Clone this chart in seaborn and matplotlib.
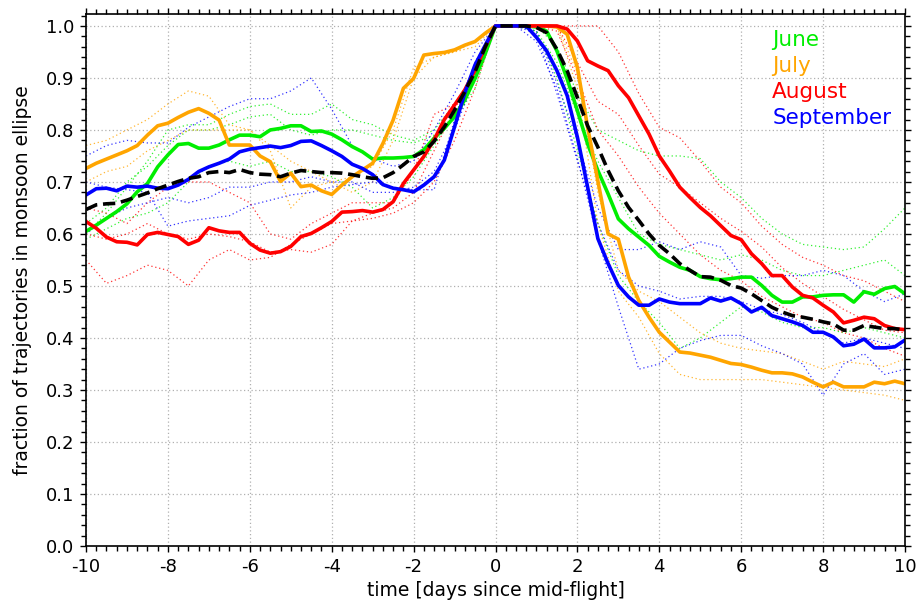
import numpy as np
import seaborn as sns
import matplotlib.pyplot as plt
from matplotlib.ticker import MultipleLocator

sns.set_theme(style="ticks")
plt.rcParams['font.family'] = ['DejaVu Sans']
plt.rcParams['axes.unicode_minus'] = False
plt.rcParams['text.color'] = 'black'
plt.rcParams['axes.labelcolor'] = 'black'
plt.rcParams['xtick.color'] = 'black'
plt.rcParams['ytick.color'] = 'black'

# time axis of the monthly means (6-hourly) and of the single flights (12-hourly)
t_mean = np.arange(-10, 10.001, 0.25)
t_flight = np.arange(-10, 10.001, 0.5)

june = [0.605, 0.617, 0.630, 0.643, 0.658, 0.681, 0.697, 0.729, 0.752, 0.772, 0.774,
        0.765, 0.765, 0.771, 0.781, 0.790, 0.790, 0.787, 0.800, 0.803, 0.808, 0.808,
        0.797, 0.798, 0.792, 0.781, 0.768, 0.758, 0.744, 0.746, 0.746, 0.747, 0.749,
        0.762, 0.784, 0.803, 0.826, 0.858, 0.899, 0.947, 1.0,
        1.0, 1.0, 1.0, 0.998, 0.990, 0.952, 0.898, 0.837, 0.773, 0.722, 0.677, 0.629,
        0.610, 0.594, 0.578, 0.557, 0.546, 0.536, 0.530, 0.518, 0.514, 0.512, 0.514,
        0.517, 0.517, 0.501, 0.482, 0.469, 0.469, 0.479, 0.479, 0.482, 0.483, 0.483,
        0.469, 0.489, 0.484, 0.495, 0.499, 0.485]
july = [0.726, 0.736, 0.744, 0.752, 0.760, 0.770, 0.790, 0.808, 0.813, 0.824, 0.834,
        0.841, 0.832, 0.819, 0.771, 0.771, 0.771, 0.750, 0.739, 0.701, 0.717, 0.691,
        0.694, 0.683, 0.676, 0.694, 0.710, 0.723, 0.736, 0.774, 0.819, 0.880, 0.899,
        0.944, 0.947, 0.949, 0.954, 0.963, 0.970, 0.986, 1.0,
        1.0, 1.0, 1.0, 1.0, 1.0, 0.998, 0.984, 0.920, 0.805, 0.702, 0.600, 0.590,
        0.517, 0.472, 0.440, 0.411, 0.392, 0.373, 0.371, 0.367, 0.363, 0.357, 0.351,
        0.349, 0.344, 0.338, 0.333, 0.333, 0.331, 0.325, 0.315, 0.306, 0.315, 0.306,
        0.306, 0.306, 0.315, 0.312, 0.317, 0.312]
august = [0.624, 0.611, 0.594, 0.585, 0.584, 0.579, 0.599, 0.603, 0.599, 0.595, 0.580,
          0.588, 0.612, 0.606, 0.603, 0.603, 0.582, 0.569, 0.563, 0.566, 0.576, 0.595,
          0.601, 0.612, 0.624, 0.642, 0.643, 0.645, 0.642, 0.647, 0.662, 0.697, 0.723,
          0.749, 0.781, 0.820, 0.848, 0.877, 0.915, 0.960, 1.0,
          1.0, 1.0, 1.0, 1.0, 1.0, 1.0, 0.994, 0.971, 0.933, 0.923, 0.914, 0.885,
          0.862, 0.827, 0.792, 0.750, 0.721, 0.690, 0.670, 0.651, 0.635, 0.616, 0.597,
          0.589, 0.562, 0.543, 0.520, 0.520, 0.498, 0.482, 0.477, 0.463, 0.450, 0.429,
          0.434, 0.440, 0.437, 0.424, 0.418, 0.416]
september = [0.675, 0.687, 0.688, 0.683, 0.692, 0.690, 0.692, 0.688, 0.687, 0.694, 0.705,
             0.720, 0.729, 0.736, 0.744, 0.758, 0.763, 0.766, 0.769, 0.766, 0.770, 0.778,
             0.779, 0.770, 0.760, 0.749, 0.734, 0.726, 0.714, 0.695, 0.688, 0.685, 0.681,
             0.694, 0.710, 0.742, 0.806, 0.871, 0.925, 0.963, 1.0,
             1.0, 1.0, 1.0, 0.978, 0.952, 0.914, 0.866, 0.786, 0.690, 0.591, 0.543, 0.501,
             0.479, 0.463, 0.463, 0.475, 0.469, 0.466, 0.466, 0.466, 0.477, 0.471, 0.477,
             0.466, 0.450, 0.459, 0.443, 0.437, 0.431, 0.424, 0.411, 0.411, 0.402, 0.385,
             0.388, 0.398, 0.381, 0.381, 0.383, 0.396]
all_months = [0.647, 0.656, 0.658, 0.659, 0.665, 0.672, 0.679, 0.687, 0.694, 0.701, 0.707,
              0.710, 0.718, 0.720, 0.718, 0.724, 0.718, 0.715, 0.714, 0.710, 0.717, 0.722,
              0.720, 0.718, 0.718, 0.717, 0.714, 0.710, 0.707, 0.708, 0.718, 0.733, 0.749,
              0.758, 0.778, 0.806, 0.838, 0.874, 0.912, 0.960, 1.0,
              1.0, 1.0, 1.0, 0.997, 0.987, 0.955, 0.914, 0.862, 0.808, 0.767, 0.722, 0.683,
              0.651, 0.626, 0.600, 0.578, 0.562, 0.543, 0.530, 0.518, 0.517, 0.511, 0.501,
              0.496, 0.485, 0.472, 0.459, 0.450, 0.443, 0.440, 0.436, 0.431, 0.427, 0.415,
              0.415, 0.424, 0.421, 0.418, 0.418, 0.415]

# single flights, one list per flight
june_flights = [
    [0.60, 0.64, 0.69, 0.74, 0.80, 0.81, 0.81, 0.83, 0.845, 0.85, 0.83, 0.83, 0.85, 0.82,
     0.81, 0.79, 0.78, 0.80, 0.85, 0.91, 1.0,
     1.0, 1.0, 0.96, 0.87, 0.80, 0.78, 0.76, 0.75, 0.75, 0.745, 0.70, 0.67, 0.63, 0.60,
     0.58, 0.575, 0.57, 0.575, 0.61, 0.65],
    [0.62, 0.65, 0.70, 0.73, 0.77, 0.80, 0.80, 0.81, 0.825, 0.83, 0.80, 0.79, 0.80, 0.80,
     0.79, 0.78, 0.775, 0.79, 0.82, 0.88, 1.0,
     1.0, 0.99, 0.93, 0.83, 0.74, 0.67, 0.60, 0.58, 0.57, 0.56, 0.55, 0.56, 0.55, 0.53,
     0.52, 0.52, 0.53, 0.54, 0.55, 0.52],
    [0.59, 0.61, 0.63, 0.64, 0.66, 0.70, 0.73, 0.74, 0.73, 0.74, 0.72, 0.72, 0.71, 0.69,
     0.65, 0.67, 0.71, 0.77, 0.83, 0.90, 1.0,
     1.0, 0.99, 0.90, 0.76, 0.62, 0.52, 0.47, 0.43, 0.38, 0.40, 0.43, 0.46, 0.45, 0.43,
     0.42, 0.42, 0.41, 0.42, 0.41, 0.40],
]
july_flights = [
    [0.77, 0.78, 0.80, 0.82, 0.85, 0.875, 0.865, 0.81, 0.80, 0.76, 0.65, 0.69, 0.70, 0.71,
     0.73, 0.80, 0.92, 0.94, 0.95, 0.97, 1.0,
     1.0, 1.0, 1.0, 0.91, 0.68, 0.53, 0.49, 0.47, 0.44, 0.41, 0.39, 0.38, 0.375, 0.37,
     0.355, 0.34, 0.355, 0.35, 0.345, 0.36],
    [0.70, 0.72, 0.73, 0.76, 0.78, 0.80, 0.80, 0.80, 0.80, 0.77, 0.74, 0.72, 0.70, 0.68,
     0.70, 0.78, 0.90, 0.94, 0.95, 0.96, 1.0,
     1.0, 1.0, 1.0, 0.88, 0.62, 0.49, 0.44, 0.37, 0.33, 0.32, 0.32, 0.32, 0.32, 0.315,
     0.31, 0.305, 0.30, 0.295, 0.29, 0.28],
]
august_flights = [
    [0.65, 0.64, 0.62, 0.66, 0.69, 0.70, 0.70, 0.68, 0.66, 0.60, 0.59, 0.62, 0.64, 0.66,
     0.66, 0.66, 0.72, 0.83, 0.85, 0.90, 1.0,
     1.0, 1.0, 1.0, 1.0, 1.0, 0.95, 0.87, 0.805, 0.785, 0.74, 0.69, 0.66, 0.615, 0.58,
     0.555, 0.54, 0.52, 0.51, 0.49, 0.47],
    [0.60, 0.59, 0.60, 0.62, 0.60, 0.59, 0.60, 0.595, 0.585, 0.565, 0.57, 0.565, 0.58,
     0.625, 0.64, 0.65, 0.68, 0.76, 0.84, 0.91, 1.0,
     1.0, 1.0, 1.0, 0.93, 0.855, 0.83, 0.77, 0.715, 0.69, 0.66, 0.63, 0.605, 0.575, 0.535,
     0.505, 0.48, 0.455, 0.435, 0.415, 0.41],
    [0.55, 0.505, 0.52, 0.54, 0.53, 0.50, 0.55, 0.57, 0.55, 0.555, 0.58, 0.60, 0.62,
     0.625, 0.63, 0.64, 0.66, 0.70, 0.78, 0.88, 1.0,
     1.0, 1.0, 0.99, 0.90, 0.80, 0.75, 0.69, 0.64, 0.60, 0.56, 0.53, 0.51, 0.48, 0.46,
     0.44, 0.43, 0.41, 0.40, 0.38, 0.365],
]
september_flights = [
    [0.75, 0.77, 0.78, 0.775, 0.775, 0.805, 0.825, 0.845, 0.86, 0.86, 0.875, 0.90, 0.84,
     0.77, 0.745, 0.73, 0.74, 0.80, 0.87, 0.95, 1.0,
     1.0, 0.99, 0.89, 0.78, 0.65, 0.57, 0.57, 0.585, 0.57, 0.585, 0.575, 0.52, 0.515,
     0.52, 0.52, 0.53, 0.52, 0.49, 0.47, 0.485],
    [0.70, 0.69, 0.685, 0.68, 0.615, 0.625, 0.63, 0.635, 0.655, 0.665, 0.675, 0.68, 0.69,
     0.695, 0.70, 0.69, 0.685, 0.685, 0.82, 0.93, 1.0,
     1.0, 0.985, 0.87, 0.74, 0.62, 0.53, 0.50, 0.49, 0.475, 0.48, 0.48, 0.47, 0.455,
     0.445, 0.43, 0.41, 0.39, 0.40, 0.39, 0.38],
    [0.60, 0.63, 0.65, 0.66, 0.67, 0.66, 0.67, 0.69, 0.69, 0.70, 0.70, 0.71, 0.70, 0.70,
     0.68, 0.68, 0.69, 0.72, 0.80, 0.90, 1.0,
     1.0, 0.97, 0.88, 0.745, 0.59, 0.46, 0.34, 0.35, 0.38, 0.395, 0.405, 0.405, 0.385,
     0.37, 0.35, 0.29, 0.35, 0.37, 0.33, 0.34],
]

month_names = ["June", "July", "August", "September"]
month_colors = ["#00ee00", "#ffa500", "#ff0000", "#0000ff"]
month_means = [june, july, august, september]
month_flights = [june_flights, july_flights, august_flights, september_flights]

fig, ax = plt.subplots(figsize=(9.17, 6.05), dpi=100)
fig.subplots_adjust(left=0.0938, right=0.9869, bottom=0.0975, top=0.9769)

# thin dotted: individual flights
for flights, col in zip(month_flights, month_colors):
    for f in flights:
        sns.lineplot(x=t_flight, y=f, color=col, lw=0.9, alpha=0.8, ax=ax)
        ax.lines[-1].set_dashes([1.0, 2.2])

# thick: monthly means
for vals, col in zip(month_means, month_colors):
    sns.lineplot(x=t_mean, y=vals, color=col, lw=2.6, ax=ax)

sns.lineplot(x=t_mean, y=all_months, color="black", lw=2.6, ax=ax)
ax.lines[-1].set_dashes([3.4, 1.6])

for i, (name, col) in enumerate(zip(month_names, month_colors)):
    ax.text(0.838, 0.951 - i * 0.049, name, color=col, fontsize=15.5,
            transform=ax.transAxes, ha="left", va="center")

ax.set_xlim(-10, 10)
ax.set_ylim(0, 1.023)
ax.xaxis.set_major_locator(MultipleLocator(2))
ax.xaxis.set_minor_locator(MultipleLocator(0.25))
ax.yaxis.set_major_locator(MultipleLocator(0.1))
ax.yaxis.set_minor_locator(MultipleLocator(0.02))
ax.set_yticks(ax.get_yticks())
ax.set_yticklabels([f"{v:.1f}" for v in ax.get_yticks()])
ax.set_ylim(0, 1.023)
ax.tick_params(which="both", direction="out", top=True, right=True, color="black",
               labelsize=13, width=1.0)
ax.tick_params(which="major", length=4.5, pad=4)
ax.tick_params(which="minor", length=3.5)
ax.grid(True, which="major", color="#b0b0b0", linestyle=(0, (1, 2)), linewidth=0.9)
for s in ax.spines.values():
    s.set_color("black")
    s.set_linewidth(1.2)

ax.set_xlabel("time [days since mid-flight]", fontsize=13.5, labelpad=4)
ax.set_ylabel("fraction of trajectories in monsoon ellipse", fontsize=13.5, labelpad=10)

fig.savefig("out.png", dpi=100)
